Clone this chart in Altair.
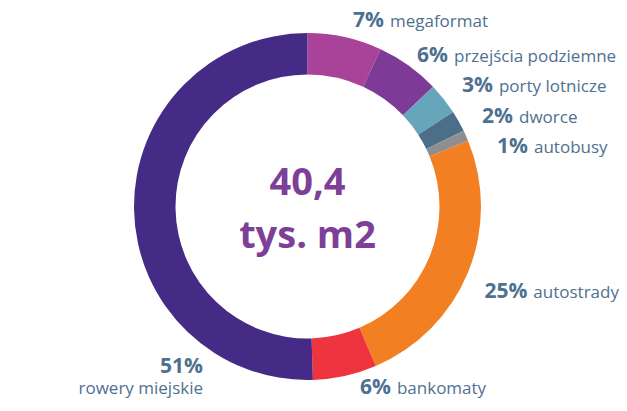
import altair as alt
import pandas as pd
import numpy as np

# ---- data ----
categories = ["megaformat", "przejścia podziemne", "porty lotnicze", "dworce",
              "autobusy", "autostrady", "bankomaty", "rowery miejskie"]
shares = [7, 6, 3, 2, 1, 25, 6, 51]
colors = ["#A9439A", "#7D3A96", "#67A5BB", "#4B6F88",
          "#8F8F8F", "#F27F22", "#EE343F", "#462B86"]
center_lines = ["40,4", "tys. m2"]

# ---- layout (label offsets from the slice mid-angle point) ----
label_dx = [38.4, 32.8, 39.4, 43.0, 50.0, 47.0, 45.4, 85.5]
label_dy = [5.7, 9.6, 3.3, 9.8, 24.0, 19.5, 2.0, 163.5]
name_dy_rowery = 184.5

TXT = "#4E7190"
PURPLE = "#7E3F98"
CX, CY = 299.5, 198.5
FONT = "Open Sans"

df = pd.DataFrame({"cat": categories, "share": shares})
df["end"] = df["share"].cumsum()
df["start"] = df["end"] - df["share"]
df["mid"] = (df["start"] + df["end"]) / 2
df["pct"] = df["share"].astype(str) + "%"
total = int(df["share"].sum())

theta_scale = alt.Scale(domain=[0, total], range=[0, 2 * np.pi])

base = alt.Chart(df)

arcs = base.mark_arc(radius=173.5, innerRadius=132).encode(
    theta=alt.Theta("start:Q", scale=theta_scale, stack=False),
    theta2="end:Q",
    color=alt.Color("cat:N", scale=alt.Scale(domain=categories, range=colors), legend=None),
    x=alt.value(CX),
    y=alt.value(CY),
)

layers = [arcs]
for i, c in enumerate(categories):
    sub = base.transform_filter(alt.FieldEqualPredicate(field="cat", equal=c))
    enc = dict(
        theta=alt.Theta("mid:Q", scale=theta_scale, stack=False),
        x=alt.value(CX),
        y=alt.value(CY),
    )
    if c == "rowery miejskie":
        pct = sub.mark_text(radius=190, dx=label_dx[i], dy=label_dy[i], align="right",
                            baseline="alphabetic", font=FONT, fontWeight="bold",
                            fontSize=21, color=TXT).encode(text="pct:N", **enc)
        name = sub.mark_text(radius=190, dx=label_dx[i], dy=name_dy_rowery, align="right",
                             baseline="alphabetic", font=FONT, fontSize=17,
                             color=TXT).encode(text="cat:N", **enc)
    else:
        pct = sub.mark_text(radius=190, dx=label_dx[i] - 3, dy=label_dy[i], align="right",
                            baseline="alphabetic", font=FONT, fontWeight="bold",
                            fontSize=21, color=TXT).encode(text="pct:N", **enc)
        name = sub.mark_text(radius=190, dx=label_dx[i] + 3, dy=label_dy[i], align="left",
                             baseline="alphabetic", font=FONT, fontSize=17,
                             color=TXT).encode(text="cat:N", **enc)
    layers += [pct, name]

center_df = pd.DataFrame({"t": center_lines, "row": [0, 1]})
center1 = alt.Chart(center_df).transform_filter("datum.row == 0").mark_text(
    align="center", baseline="alphabetic", font=FONT, fontWeight="bold",
    fontSize=38, color=PURPLE, dy=-11.5
).encode(text="t:N", x=alt.value(CX), y=alt.value(CY))
center2 = alt.Chart(center_df).transform_filter("datum.row == 1").mark_text(
    align="center", baseline="alphabetic", font=FONT, fontWeight="bold",
    fontSize=38, color=PURPLE, dy=41.5
).encode(text="t:N", x=alt.value(CX), y=alt.value(CY))
layers += [center1, center2]

chart = alt.layer(*layers).properties(
    width=611, height=390, padding=0, autosize="none"
).configure_view(stroke=None)

chart.save("out.html", embed_options={"renderer": "svg", "actions": False})
